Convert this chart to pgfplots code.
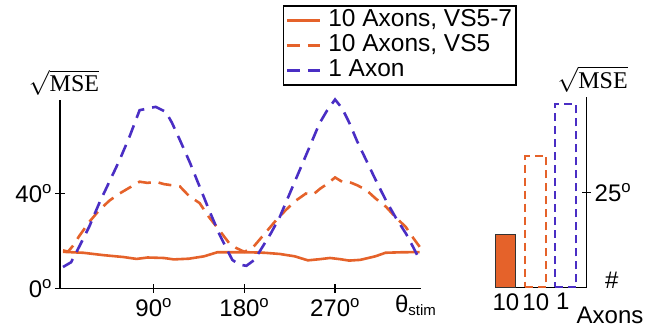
\documentclass[border=0pt]{standalone}
\usepackage{fontspec}
\setmainfont{Liberation Sans}
\newfontfamily\serif{Liberation Serif}
\usepackage{pgfplots}
\pgfplotsset{compat=1.18}
\definecolor{cor}{RGB}{229,98,42}
\definecolor{cbl}{RGB}{74,46,196}
\newcommand{\dg}{\textsuperscript{o}}
\newcommand{\mse}{$\sqrt{\hbox{\serif MSE}}$}
\begin{document}
\begin{tikzpicture}
\path[use as bounding box] (0,0) rectangle (649pt,330pt);
\begin{axis}[
  at={(60pt,41.7pt)}, anchor=south west,
  scale only axis, width=360.7pt, height=188.3pt,
  xmin=-3, xmax=355, ymin=0, ymax=79.5,
  axis x line=bottom, axis y line=left,
  axis line style={-, line width=1.5pt, black},
  xtick={90,180,270}, xticklabels={90\dg,180\dg,270\dg},
  ytick={0,40}, yticklabels={0\dg,40\dg},
  tick style={line width=1.5pt, black},
  major tick length=9pt,
  ticklabel style={font=\fontsize{24}{28}\selectfont},
  xticklabel style={yshift=-2pt},
  legend style={at={(0.618,1.504)}, anchor=north west, draw=black, line width=1.5pt,
    font=\fontsize{24.5}{26}\selectfont, row sep=0pt, inner sep=2pt,
    nodes={inner ysep=1.5pt, text height=17pt, text depth=5pt},
    cells={anchor=west}},
  legend image code/.code={\draw[#1] (0pt,0pt) -- (33pt,0pt);},
  legend cell align=left,
  clip=false,
]
\addplot[cor, line width=2.6pt] coordinates {
(0,15.4) (20,15) (40,14) (60,13.2) (73,12.4) (84,13) (100,12.8) (110,12.2)
(125,12.5) (140,13.5) (153,15.2) (170,15.2) (185,15.2) (200,15) (215,14.5)
(230,13.5) (243,11.8) (255,12.3) (265,12.8) (275,12.3) (284,11.7) (295,12)
(310,13.5) (320,15) (335,15.2) (354,15.3)};
\addlegendentry{\hspace{5pt}10 Axons, VS5-7}
\addplot[cor, line width=2.6pt, dash pattern=on 13pt off 8pt] coordinates {
(0,16) (5,15.5) (10,18) (16,22) (26,28) (36,33) (46,37) (56,40) (66,42.5)
(76,45) (84,44.5) (92,45) (100,44) (108,43.5) (116,43) (125,39) (135.5,36)
(145,30) (155,24.6) (165,19) (172,17) (180,15.4) (188,17) (200,23) (210,28)
(221,33) (231,37) (241,40) (248,39.5) (255,42) (262,44) (270,46.8) (277,45)
(284,44.9) (292,43.5) (301,41.5) (310,38) (320.6,34.4) (330,30) (340,26)
(348,21) (354,17.5)};
\addlegendentry{\hspace{5pt}10 Axons, VS5}
\addplot[cbl, line width=2.6pt, dash pattern=on 13pt off 8pt] coordinates {
(0,9) (8,11) (16,17.5) (26,26) (36,36) (46,45) (56,54) (66,64) (76,75.2)
(92,76.6) (102,74.5) (108,70) (116,62.6) (126,53) (135.5,43) (145,33) (155,23)
(162,17) (168,12) (175,10) (182,9.5) (190,12) (198,17.5) (206,23) (215,30)
(225,40) (235,50) (245,60) (254.5,69.6) (262,75) (270,79.7) (277,76) (284,70)
(292,62) (301,54) (310,46) (320.6,37) (330,30) (340.5,23) (348,17) (354,12)};
\addlegendentry{\hspace{5pt}1 Axon}
\node[anchor=south, font=\fontsize{24}{26}\selectfont] at (rel axis cs:0,1) [xshift=4pt, yshift=1pt] {\mse};
\node[font=\fontsize{24}{28}\selectfont] at (rel axis cs:1,0) [xshift=-5pt, yshift=-17pt] {θ\textsubscript{\fontsize{15}{17}\selectfont stim}};
\end{axis}
\begin{axis}[
  at={(496pt,42.7pt)}, anchor=south west,
  scale only axis, width=90.7pt, height=190.6pt,
  xmin=-0.33, xmax=2.7, ymin=0, ymax=50.2,
  axis x line=bottom, axis y line=right,
  axis line style={-, line width=1.5pt, black},
  xtick={0,1,1.9}, xticklabels={10,10,1},
  x tick style={draw=none},
  ytick={25}, yticklabels={25\dg},
  y tick style={line width=1.5pt, black},
  major tick length=9pt,
  ticklabel style={font=\fontsize{24}{28}\selectfont},
  xticklabel style={yshift=2pt},
  clip=false,
]
\addplot[ybar, bar width=20pt, bar shift=0pt, fill=cor, draw=black!80, line width=1pt] coordinates {(0,13.9)};
\addplot[ybar, bar width=21pt, bar shift=0pt, draw=cor, fill=none, line width=1.8pt, dash pattern=on 8pt off 5pt] coordinates {(1,34.6)};
\addplot[ybar, bar width=21pt, bar shift=0pt, draw=cbl, fill=none, line width=1.8pt, dash pattern=on 8pt off 5pt] coordinates {(1.98,48.2)};
\node[anchor=south, font=\fontsize{24}{26}\selectfont] at (rel axis cs:1,1) [xshift=6pt, yshift=1pt] {\mse};
\end{axis}
\node[font=\fontsize{24}{28}\selectfont] at (611.7pt,50pt) {\#};
\node[font=\fontsize{24}{28}\selectfont] at (610pt,15pt) {Axons};
\end{tikzpicture}
\end{document}
